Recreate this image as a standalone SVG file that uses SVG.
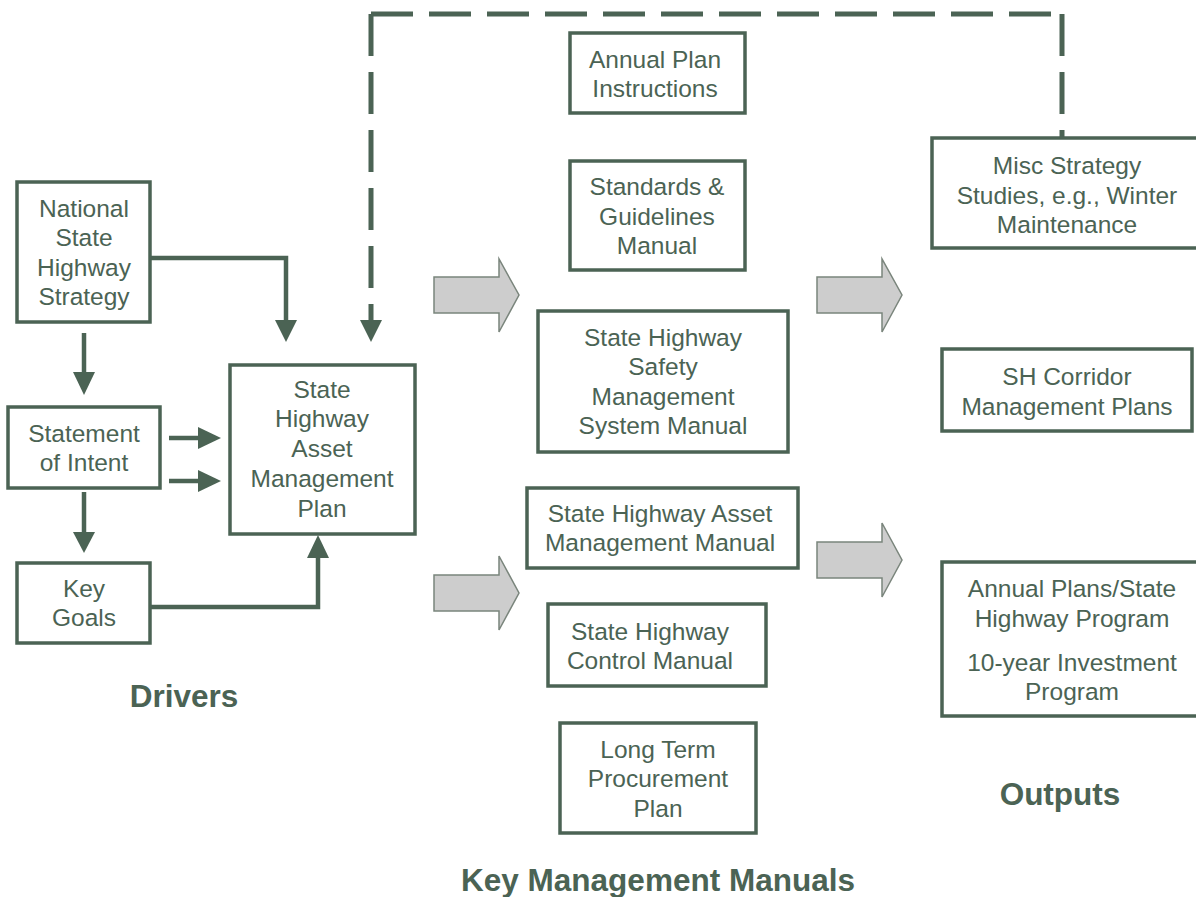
<svg xmlns="http://www.w3.org/2000/svg" width="1196" height="897" viewBox="0 0 1196 897">
<style>
.box{fill:#fff;stroke:#4b6354;stroke-width:3.5}
.t{font-family:"Liberation Sans",Arial,sans-serif;font-size:24.5px;fill:#4b6354;text-anchor:middle}
.h{font-family:"Liberation Sans",Arial,sans-serif;font-size:31.5px;font-weight:bold;fill:#4b6354;text-anchor:middle}
.ln{fill:none;stroke:#4b6354;stroke-width:4.5}
.dash{fill:none;stroke:#4b6354;stroke-width:5;stroke-dasharray:42 16}
.hd{fill:#4b6354}
.big{fill:#cdcdcd;stroke:#7a857c;stroke-width:1.5}
</style>
<rect width="1196" height="897" fill="#fff"/>
<g id="connectors">
<path class="ln" d="M150,258 H286 V322"/>
<polygon class="hd" points="275,320 297,320 286,342"/>
<path class="dash" d="M371,14 H1062"/>
<path class="dash" d="M371,14 V320"/>
<path class="dash" d="M1062,14 V138"/>
<polygon class="hd" points="360,320 382,320 371,342"/>
<path class="ln" d="M84,333 V374"/>
<polygon class="hd" points="73,372 95,372 84,395"/>
<path class="ln" d="M84,492 V534"/>
<polygon class="hd" points="73,532 95,532 84,553"/>
<path class="ln" d="M169,438 H200"/>
<polygon class="hd" points="198,427 198,449 221,438"/>
<path class="ln" d="M169,481 H200"/>
<polygon class="hd" points="198,470 198,492 221,481"/>
<path class="ln" d="M150,607 H318 V556"/>
<polygon class="hd" points="307,558 329,558 318,535"/>
<polygon class="big" points="434,277 499,277 499,259 519,295 499,332 499,313 434,313"/>
<polygon class="big" points="817,277 882,277 882,259 902,295 882,332 882,313 817,313"/>
<polygon class="big" points="434,575 499,575 499,556 519,593 499,630 499,611 434,611"/>
<polygon class="big" points="817,542 882,542 882,523 902,560 882,597 882,578 817,578"/>
</g>
<g id="nshs"><rect class="box" x="17" y="182" width="133" height="140"/>
<text class="t" x="84" y="217">National</text><text class="t" x="84" y="246">State</text><text class="t" x="84" y="276">Highway</text><text class="t" x="84" y="305">Strategy</text></g>
<g id="soi"><rect class="box" x="8" y="407" width="152" height="81"/>
<text class="t" x="84" y="442">Statement</text><text class="t" x="84" y="471">of Intent</text></g>
<g id="goals"><rect class="box" x="17" y="563" width="133" height="80"/>
<text class="t" x="84" y="597">Key</text><text class="t" x="84" y="626">Goals</text></g>
<g id="shamp"><rect class="box" x="230" y="365" width="185" height="169"/>
<text class="t" x="322" y="398">State</text><text class="t" x="322" y="427">Highway</text><text class="t" x="322" y="457">Asset</text><text class="t" x="322" y="487">Management</text><text class="t" x="322" y="517">Plan</text></g>
<g id="api"><rect class="box" x="570" y="33" width="175" height="80"/>
<text class="t" x="655" y="68">Annual Plan</text><text class="t" x="655" y="97">Instructions</text></g>
<g id="sgm"><rect class="box" x="570" y="161" width="175" height="109"/>
<text class="t" x="657" y="195">Standards &amp;</text><text class="t" x="657" y="225">Guidelines</text><text class="t" x="657" y="254">Manual</text></g>
<g id="shsms"><rect class="box" x="538" y="311" width="250" height="141"/>
<text class="t" x="663" y="346">State Highway</text><text class="t" x="663" y="375">Safety</text><text class="t" x="663" y="405">Management</text><text class="t" x="663" y="434">System Manual</text></g>
<g id="shamm"><rect class="box" x="527" y="488" width="271" height="80"/>
<text class="t" x="660" y="522">State Highway Asset</text><text class="t" x="660" y="551">Management Manual</text></g>
<g id="shcm"><rect class="box" x="548" y="604" width="218" height="82"/>
<text class="t" x="650" y="640">State Highway</text><text class="t" x="650" y="669">Control Manual</text></g>
<g id="ltpp"><rect class="box" x="560" y="723" width="196" height="110"/>
<text class="t" x="658" y="758">Long Term</text><text class="t" x="658" y="787">Procurement</text><text class="t" x="658" y="817">Plan</text></g>
<g id="misc"><rect class="box" x="932" y="138" width="270" height="110"/>
<text class="t" x="1067" y="174">Misc Strategy</text><text class="t" x="1067" y="204">Studies, e.g., Winter</text><text class="t" x="1067" y="233">Maintenance</text></g>
<g id="corridor"><rect class="box" x="942" y="349" width="250" height="82"/>
<text class="t" x="1067" y="385">SH Corridor</text><text class="t" x="1067" y="415">Management Plans</text></g>
<g id="annual"><rect class="box" x="942" y="562" width="260" height="154"/>
<text class="t" x="1072" y="597">Annual Plans/State</text><text class="t" x="1072" y="627">Highway Program</text><text class="t" x="1072" y="671">10-year Investment</text><text class="t" x="1072" y="700">Program</text></g>
<g id="labels">
<text class="h" x="184" y="707">Drivers</text>
<text class="h" x="658" y="891">Key Management Manuals</text>
<text class="h" x="1060" y="805">Outputs</text>
</g>
</svg>
